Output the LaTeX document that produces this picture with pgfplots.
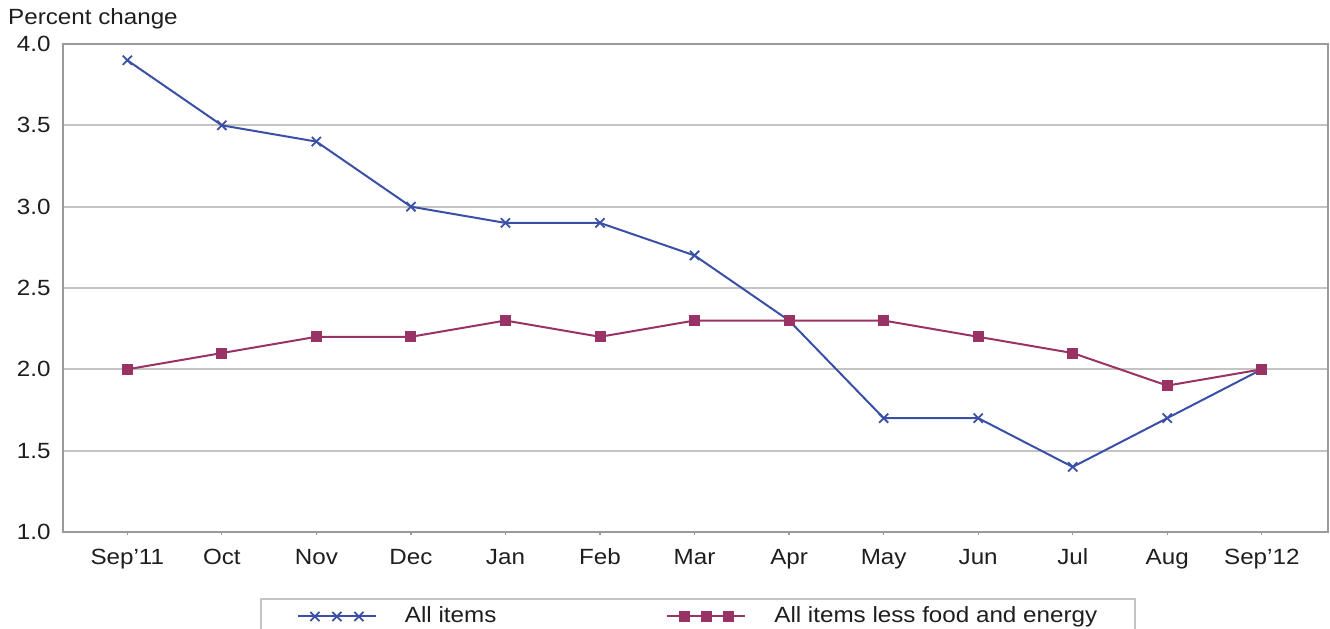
\documentclass[border=0pt]{standalone}
\usepackage{pgfplots}
\pgfplotsset{compat=1.18}
\usepackage{fontspec}
\setmainfont{Liberation Sans}[FakeStretch=1.1]
\definecolor{cpiblue}{HTML}{3A50A6}
\definecolor{cpimag}{HTML}{993366}
\definecolor{gridgray}{HTML}{C4C4C4}
\definecolor{axgray}{HTML}{9A9A9A}
\definecolor{txt}{HTML}{1E1E1E}
\begin{document}
\begin{tikzpicture}
\fontsize{22bp}{26bp}\selectfont
\begin{axis}[
  at={(63bp,97bp)}, anchor=south west,
  scale only axis, width=1265bp, height=488bp,
  xmin=-0.68, xmax=12.7, ymin=1.0, ymax=4.0,
  xtick={0,...,12},
  xticklabels={Sep'11,Oct,Nov,Dec,Jan,Feb,Mar,Apr,May,Jun,Jul,Aug,Sep'12},
  ytick={1.0,1.5,...,4.0},
  y tick label style={/pgf/number format/fixed,/pgf/number format/fixed zerofill,/pgf/number format/precision=1, xshift=-5bp},
  /pgf/number format/assume math mode=true,
  ymajorgrids, grid style={gridgray,line width=2bp},
  axis line style={axgray,line width=2bp},
  tick style={axgray,line width=1.2bp},
  ytick style={draw=none},
  xtick pos=bottom,
  xtick align=outside, major tick length=3bp,
  x tick label style={yshift=-6bp, text height=16bp, text depth=5bp},
  ticklabel style={font=\fontsize{22bp}{26bp}\selectfont, text=txt},
  legend columns=2,
  legend style={at={(rel axis cs:0.1557,-0.135)}, anchor=north west,
    draw=gridgray, line width=2bp, inner xsep=36bp, inner ysep=6bp,
    font=\fontsize{22bp}{26bp}\selectfont, text=txt,
    /tikz/every odd column/.append style={column sep=26bp},
    /tikz/every even column/.append style={column sep=168bp}},
  legend cell align=left,
  legend image code/.code={%
    \draw[#1,/tikz/mark=none] (0bp,0bp) -- (78bp,0bp);
    \draw[#1] plot[only marks] coordinates {(17bp,0bp) (39bp,0bp) (61bp,0bp)};},
]
\addplot[cpiblue, line width=2bp, mark=x, mark size=6.5bp, mark options={line width=1.8bp}]
  coordinates {(0,3.9) (1,3.5) (2,3.4) (3,3.0) (4,2.9) (5,2.9) (6,2.7) (7,2.3) (8,1.7) (9,1.7) (10,1.4) (11,1.7) (12,2.0)};
\addlegendentry{All items}
\addplot[cpimag, line width=2bp, mark=square*, mark size=4.5bp, mark options={solid}]
  coordinates {(0,2.0) (1,2.1) (2,2.2) (3,2.2) (4,2.3) (5,2.2) (6,2.3) (7,2.3) (8,2.3) (9,2.2) (10,2.1) (11,1.9) (12,2.0)};
\addlegendentry{All items less food and energy}
\end{axis}
\node[anchor=base west, text=txt, inner sep=0pt] at (8bp,604bp) {Percent change};
\pgfresetboundingbox
\useasboundingbox (0,0) rectangle (1330bp,629bp);
\end{tikzpicture}
\end{document}
